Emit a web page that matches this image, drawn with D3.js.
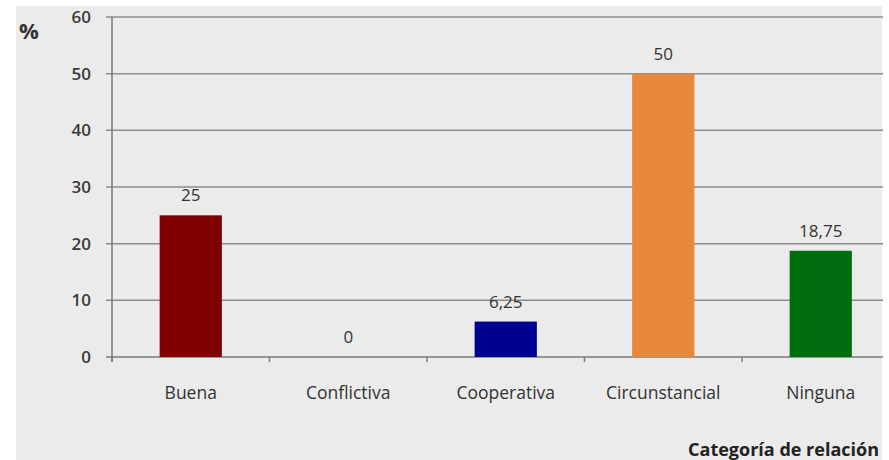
<!DOCTYPE html>
<html><head><meta charset="utf-8">
<script src="https://cdn.jsdelivr.net/npm/d3@7"></script>
<style>body{margin:0;background:#fff}svg{display:block}</style>
</head><body>
<script>
const categories = ["Buena", "Conflictiva", "Cooperativa", "Circunstancial", "Ninguna"];
const values = [25, 0, 6.25, 50, 18.75];
const valueLabels = ["25", "0", "6,25", "50", "18,75"];
const colors = ["#800000", "#7f7f7f", "#000090", "#e8883a", "#006e0e"];
const yTicks = [0, 10, 20, 30, 40, 50, 60];

const W = 889, H = 460;
const svg = d3.select("body").append("svg").attr("width", W).attr("height", H);
const font = "'Open Sans', 'Noto Sans', sans-serif";

svg.append("rect").attr("x", 16).attr("y", 6).attr("width", 866).attr("height", 460).attr("fill", "#ebebeb");

const x = d3.scaleBand().domain(categories).range([112, 899.5]).padding(0);
const y = d3.scaleLinear().domain([0, 60]).range([357, 17]);
const gridRight = 883;

// gridlines
svg.append("g").selectAll("line").data(yTicks).join("line")
  .attr("x1", 106).attr("x2", gridRight)
  .attr("y1", d => y(d)).attr("y2", d => y(d))
  .attr("stroke", d => d === 0 ? "#7a7a7a" : "#8c8c8c").attr("stroke-width", 1.5);

// y axis line
svg.append("line").attr("x1", 112).attr("x2", 112).attr("y1", y(60)).attr("y2", 362)
  .attr("stroke", "#7a7a7a").attr("stroke-width", 1.5);

// y tick labels
svg.append("g").selectAll("text").data(yTicks).join("text")
  .attr("x", 91).attr("y", d => y(d)).attr("dy", "0.36em")
  .attr("text-anchor", "end").attr("font-family", font).attr("font-size", 17).attr("font-weight", 600)
  .attr("fill", "#3a3a3a").text(d => d);

// x ticks at band boundaries
const bounds = categories.map(c => x(c)).concat([x.range()[1]]).filter(v => v <= gridRight);
svg.append("g").selectAll("line").data(bounds).join("line")
  .attr("x1", d => d).attr("x2", d => d).attr("y1", 357).attr("y2", 362)
  .attr("stroke", "#7a7a7a").attr("stroke-width", 1.5);

// bars
const bw = x.bandwidth() * 0.395;
const data = categories.map((c, i) => ({c, v: values[i], l: valueLabels[i], col: colors[i]}));
svg.append("g").selectAll("rect").data(data).join("rect")
  .attr("x", d => x(d.c) + x.bandwidth() / 2 - bw / 2)
  .attr("width", bw)
  .attr("y", d => y(d.v))
  .attr("height", d => y(0) - y(d.v))
  .attr("fill", d => d.col);

// value labels
svg.append("g").selectAll("text").data(data).join("text")
  .attr("x", d => x(d.c) + x.bandwidth() / 2)
  .attr("y", d => y(d.v) - 14)
  .attr("text-anchor", "middle").attr("font-family", font).attr("font-size", 17)
  .attr("fill", "#333").text(d => d.l);

// category labels
svg.append("g").selectAll("text").data(categories).join("text")
  .attr("x", d => x(d) + x.bandwidth() / 2)
  .attr("y", 399)
  .attr("text-anchor", "middle").attr("font-family", font).attr("font-size", 17.5)
  .attr("fill", "#333").text(d => d);

// axis titles
svg.append("text").attr("x", 19).attr("y", 39).attr("font-family", font)
  .attr("font-size", 22).attr("font-weight", "bold").attr("fill", "#333").text("%");
svg.append("text").attr("x", 879).attr("y", 456).attr("text-anchor", "end").attr("font-family", font)
  .attr("font-size", 18).attr("font-weight", "bold").attr("fill", "#222").text("Categoría de relación");
</script>
</body></html>
